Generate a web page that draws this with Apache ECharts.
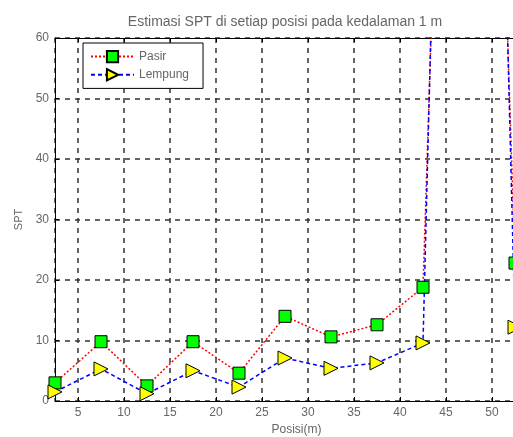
<!DOCTYPE html>
<html>
<head>
<meta charset="utf-8">
<script src="https://cdn.jsdelivr.net/npm/echarts@6/dist/echarts.min.js"></script>
<style>
  html, body { margin: 0; padding: 0; background: #fff; }
  #spt_chart { width: 513px; height: 437px; }
</style>
</head>
<body>
<div id="spt_chart"></div>
<script>
  // data
  var posisi = [2.5, 7.5, 12.5, 17.5, 22.5, 27.5, 32.5, 37.5, 42.5, 47.5, 52.5];
  var pasir = [3, 9.8, 2.5, 9.8, 4.6, 14, 10.6, 12.6, 18.8, 255, 22.8];
  var lempung = [1.5, 5.3, 1.2, 5, 2.3, 7.1, 5.4, 6.3, 9.6, 310, 12.2];
  var yTicks = [0, 10, 20, 30, 40, 50, 60];

  var textColor = '#666';
  var fontName = 'Liberation Sans, Arial, sans-serif';

  function pairs(xs, ys) {
    var out = [];
    for (var i = 0; i < xs.length; i++) {
      out.push([xs[i], ys[i]]);
    }
    return out;
  }

  var myChart = echarts.init(document.getElementById('spt_chart'));

  var option = {
    animation: false,
    textStyle: { fontFamily: fontName },

    title: {
      text: 'Estimasi SPT di setiap posisi pada kedalaman 1 m',
      left: 280,
      top: 10,
      textAlign: 'center',
      textStyle: { fontSize: 14, fontWeight: 'normal', color: textColor }
    },

    // plot area runs past the right edge, as in the source image
    grid: { left: 55, right: -25, top: 38, bottom: 36, outerBoundsMode: 'none', containLabel: false },

    legend: {
      orient: 'vertical',
      left: 83,
      top: 43,
      padding: [7, 14, 7, 7],
      itemGap: 5,
      itemWidth: 43,
      itemHeight: 14,
      backgroundColor: '#fff',
      borderColor: '#000',
      borderWidth: 1,
      textStyle: { fontSize: 12, color: textColor },
      data: ['Pasir', 'Lempung']
    },

    xAxis: [{
      type: 'value',
      min: 2.5,
      max: 55,
      splitNumber: 10,
      minInterval: 5,
      maxInterval: 5,
      name: 'Posisi(m)',
      nameLocation: 'middle',
      nameGap: 22,
      nameTextStyle: { fontSize: 12, color: textColor },
      axisLine: { lineStyle: { color: '#000', width: 1 } },
      axisTick: { inside: true, length: 4, lineStyle: { color: '#000' } },
      axisLabel: {
        fontSize: 12, color: textColor, margin: 6,
        formatter: function (v) { return v % 5 === 0 ? String(v) : ''; }
      },
      splitLine: { show: true, lineStyle: { color: '#333', width: 1.5, type: [5, 5] } }
    }, {
      // top border with inward ticks
      type: 'value',
      position: 'top',
      min: 2.5,
      max: 55,
      splitNumber: 10,
      minInterval: 5,
      maxInterval: 5,
      axisLine: { lineStyle: { color: '#000', width: 1 } },
      axisTick: { inside: true, length: 4, lineStyle: { color: '#000' } },
      axisLabel: { show: false },
      splitLine: { show: false }
    }],

    yAxis: [{
      type: 'value',
      min: yTicks[0],
      max: yTicks[yTicks.length - 1],
      interval: 10,
      name: 'SPT',
      nameLocation: 'middle',
      nameGap: 30,
      nameTextStyle: { fontSize: 11, color: textColor },
      axisLine: { show: true, lineStyle: { color: '#000', width: 1 } },
      axisTick: { show: true, inside: true, length: 4, lineStyle: { color: '#000' } },
      axisLabel: { fontSize: 12, color: textColor, margin: 6 },
      splitLine: { show: true, lineStyle: { color: '#333', width: 1.5, type: [5, 5] } }
    }],

    series: [
      {
        name: 'Pasir',
        type: 'line',
        clip: true,
        symbol: 'rect',
        symbolSize: 12,
        lineStyle: { color: '#ff0000', width: 1.5, type: [2, 2] },
        itemStyle: { color: '#00ff00', borderColor: '#000', borderWidth: 1 },
        data: pairs(posisi, pasir)
      },
      {
        name: 'Lempung',
        type: 'line',
        clip: true,
        symbol: 'triangle',
        symbolRotate: -90,
        symbolSize: 14,
        lineStyle: { color: '#0000ff', width: 1.5, type: [4, 3] },
        itemStyle: { color: '#ffff00', borderColor: '#000', borderWidth: 1 },
        data: pairs(posisi, lempung)
      }
    ]
  };

  myChart.setOption(option);
</script>
</body>
</html>
